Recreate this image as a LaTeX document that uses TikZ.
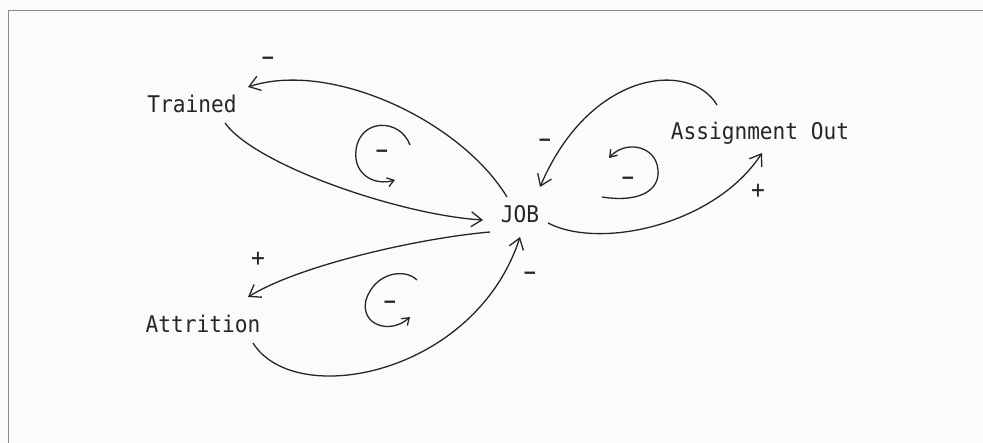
\documentclass[tikz,border=0pt]{standalone}
\usepackage{fontspec}
\setmonofont[FakeStretch=0.92]{DejaVu Sans Mono}
\usetikzlibrary{arrows.meta}

\begin{document}
\begin{tikzpicture}[x=1pt,y=-1pt,
  lbl/.style={font=\ttfamily\fontsize{23}{23}\selectfont, text=black!85,
              inner sep=0pt, outer sep=0pt, anchor=base},
  sgn/.style={font=\ttfamily\bfseries\fontsize{19}{19}\selectfont, text=black!85,
              inner sep=0pt, anchor=base},
  plussgn/.style={sgn, font=\ttfamily\fontsize{25}{25}\selectfont},
  link/.style={draw=black!85, line width=1.3pt, -{Straight Barb[angle=70:13pt]}},
  loopmark/.style={draw=black!85, line width=1.3pt, -{Straight Barb[angle=70:8pt]}},
  frame/.style={draw=black!45, line width=0.9pt}]

% page and frame
\fill[gray!3] (0,0) rectangle (983,443);
\useasboundingbox (0,0) rectangle (983,443);
\draw[frame] (8,443) -- (8,10) -- (983,10);

% variables
\node[lbl] (trained) at (192,113) {Trained};
\node[lbl] (assign)  at (760,140) {Assignment Out};
\node[lbl] (job)     at (520,223) {JOB};
\node[lbl] (attr)    at (203,333) {Attrition};

% JOB <-> Trained
\draw[link] ([shift={(-13,-26)}]job.base)
  .. controls (460,120) and (330,60) .. ([shift={(56,-26)}]trained.base);
\draw[link] ([shift={(33,10)}]trained.base)
  .. controls (255,165) and (400,215) .. ([shift={(-37,-3)}]job.base);

% JOB <-> Assignment Out
\draw[link] ([shift={(28,0)}]job.base)
  .. controls (600,250) and (715,225) .. ([shift={(2,13)}]assign.base);
\draw[link] ([shift={(-43,-35)}]assign.base)
  .. controls (690,60) and (590,70) .. ([shift={(20,-36)}]job.base);

% JOB <-> Attrition
\draw[link] ([shift={(-30,9)}]job.base)
  .. controls (420,238) and (300,265) .. ([shift={(45,-36)}]attr.base);
\draw[link] ([shift={(50,10)}]attr.base)
  .. controls (295,410) and (475,375) .. ([shift={(0,14)}]job.base);

% link polarities
\node[sgn] (s1) at (268,64) {–};
\node[sgn] (s2) at (545,146) {–};
\node[plussgn] (s3) at (758,199) {+};
\node[plussgn] (s4) at (258,267) {+};
\node[sgn] (s5) at (530,279) {–};

% loop markers
\draw[loopmark] (410,145) .. controls (400,118) and (360,118) .. (356,150)
  .. controls (353,175) and (375,186) .. (395,180);
\node[sgn] (l1) at (382,157) {–};

\draw[loopmark] (602,197) .. controls (640,203) and (660,190) .. (658,170)
  .. controls (656,145) and (625,140) .. (609,158);
\node[sgn] (l2) at (628,184) {–};

\draw[loopmark] (417,280) .. controls (405,268) and (375,272) .. (366,300)
  .. controls (360,325) and (390,335) .. (410,317);
\node[sgn] (l3) at (390,308) {–};
\end{tikzpicture}
\end{document}
